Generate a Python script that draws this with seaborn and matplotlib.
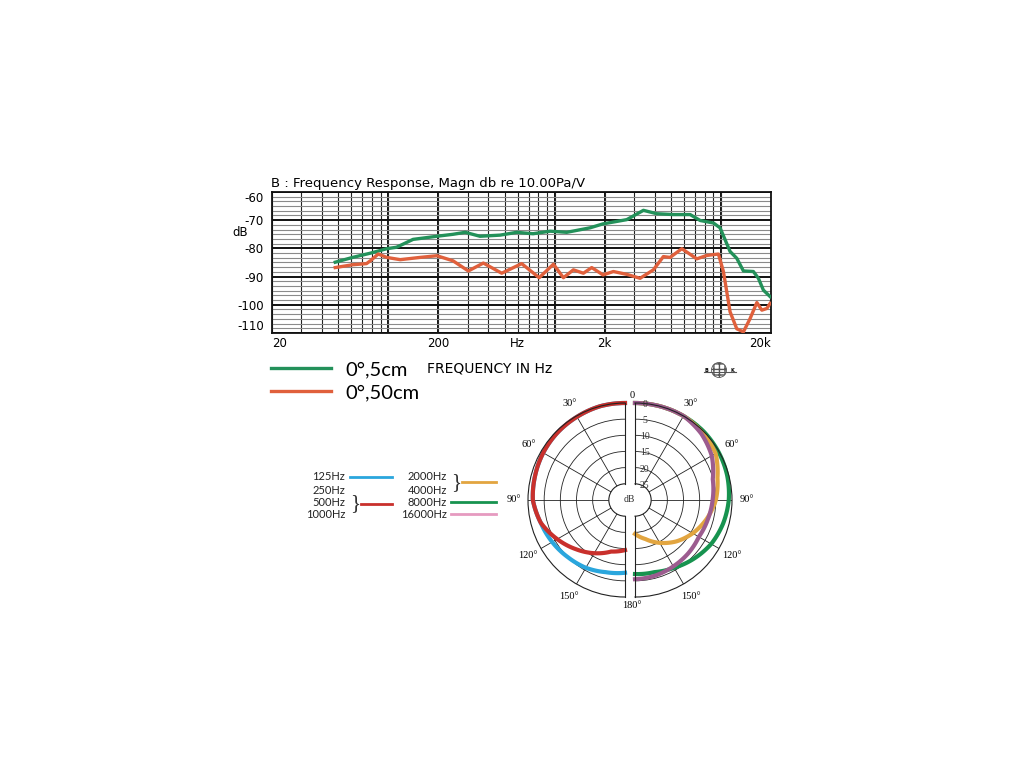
import numpy as np
import matplotlib
matplotlib.use("Agg")
import matplotlib.pyplot as plt
from matplotlib.patches import Circle
from matplotlib.ticker import LogLocator, MultipleLocator, NullFormatter
import seaborn as sns

plt.rcParams["axes.unicode_minus"] = False
plt.rcParams["font.family"] = ["DejaVu Sans"]

W, H = 1024, 768

# frequency response, on axis, 5 cm (green) and 50 cm (red)
near_hz = [48, 61, 78, 98, 112, 141, 196, 245, 290, 356, 470, 592, 742, 940,
           1183, 1634, 1956, 2716, 3420, 4114, 5180, 6530, 7500, 9020, 9880,
           11350, 12450, 13650, 15670, 16800, 18000, 19760]
near_db = [-84.9, -83.2, -81.7, -80.1, -79.6, -76.8, -75.7, -75.0, -74.3, -75.7,
           -75.3, -74.3, -74.8, -73.9, -74.3, -72.7, -71.3, -69.8, -66.5, -67.7,
           -68.0, -68.0, -70.1, -71.0, -72.7, -81.1, -83.5, -88.0, -88.2, -90.6,
           -94.8, -97.1]
far_hz = [48, 61, 74, 78, 87, 98, 118, 155, 196, 245, 303, 373, 481, 634, 808,
          984, 1130, 1297, 1490, 1672, 1956, 2256, 2716, 3266, 3926, 4508, 4946,
          5820, 7160, 8220, 9660, 10350, 11350, 12450, 13650, 14970, 16440,
          17620, 18880, 19760]
far_db = [-86.8, -85.8, -85.4, -84.4, -82.0, -83.2, -84.0, -83.2, -82.6, -84.4,
          -88.0, -85.2, -88.8, -85.4, -90.4, -85.6, -90.4, -87.6, -88.8, -86.8,
          -89.4, -88.2, -89.2, -90.6, -87.6, -82.9, -83.2, -80.1, -83.7, -82.5,
          -82.0, -88.2, -102.5, -108.5, -109.6, -104.9, -99.2, -101.9, -101.3,
          -99.5]

tick_hz = [20, 200, 600, 2000, 20000]
tick_lbl = ["20", "200", "Hz", "2k", "20k"]
heavy_hz = [100, 200, 1000, 2000, 10000]
db_ticks = [-60, -70, -80, -90, -100, -110]

# polar pattern, level in dB vs angle
polar_deg = [0, 15, 30, 45, 60, 75, 90, 105, 120, 135, 150, 165, 180]
lvl_125 = [0, 0, -0.3, -0.5, -0.8, -1.2, -1.5, -3.0, -4.0, -5.0, -5.8, -6.9, -7.5]
lvl_500 = [0, 0, -0.3, -0.5, -0.8, -1.2, -1.5, -3.0, -5.8, -8.5, -11.0, -13.5, -14.5]
lvl_2k4k = [0, 0, 0, -0.5, -1.2, -3.6, -5.0, -7.1, -9.4, -11.9, -14.7, -17.5, -19.5]
lvl_8k = [0, 0, 0, 0, -0.2, -0.5, -1.0, -1.8, -2.8, -4.3, -5.8, -6.9, -7.1]
lvl_16k = [0, 0, 0, -1.0, -2.6, -5.1, -6.0, -6.7, -7.2, -6.7, -6.3, -5.8, -5.5]
ring_db = [-20, -15, -10, -5]
ring_lbl_db = [0, -5, -10, -15, -20, -25]
angle_ticks = [30, 60, 90, 120, 150]

GREEN = "#23915a"
RED = "#e0603c"
P_RED = "#c9302c"
P_BLUE = "#2aa6dd"
P_ORANGE = "#e2a540"
P_GREEN = "#17934f"
P_PURPLE = "#9c5c8f"
P_PINK = "#e69ac0"

fig = plt.figure(figsize=(W / 100, H / 100), dpi=100)


def box(x0, y0, x1, y1):
    return [x0 / W, 1 - y1 / H, (x1 - x0) / W, (y1 - y0) / H]


# ---- frequency response ----
ax = fig.add_axes(box(272, 192, 771, 333))
ax.set_xscale("log")
sns.lineplot(x=near_hz, y=near_db, ax=ax, color=GREEN, lw=2.4, label="0°,5cm",
             estimator=None, zorder=5)
sns.lineplot(x=far_hz, y=far_db, ax=ax, color=RED, lw=2.4, label="0°,50cm",
             estimator=None, zorder=5)
ax.set_xlim(20, 20000)
ax.set_ylim(-110, -60)
ax.set_xlabel("")
ax.set_ylabel("")
ax.xaxis.set_minor_locator(LogLocator(base=10, subs=np.arange(1, 10), numticks=20))
ax.xaxis.set_minor_formatter(NullFormatter())
ax.xaxis.remove_overlapping_locs = False
ax.yaxis.set_minor_locator(MultipleLocator(10 / 6))
ax.set_xticks(tick_hz, tick_lbl)
ax.set_yticks(db_ticks, [str(v) for v in db_ticks])
ax.grid(which="minor", axis="x", color="#222222", lw=0.8)
ax.grid(which="minor", axis="y", color="#8a8a8a", lw=0.8)
ax.grid(which="major", axis="y", color="#111111", lw=1.4)
for f in heavy_hz:
    ax.axvline(f, color="#111111", lw=1.4, zorder=1)
ax.tick_params(which="both", length=0)
ax.tick_params(axis="y", pad=6, labelsize=8.5)
ax.tick_params(axis="x", pad=3, labelsize=8.5)
xl = ax.get_xticklabels()
xl[0].set_ha("left")
xl[-1].set_ha("right")
yl = ax.get_yticklabels()
yl[0].set_va("top")
yl[-1].set_va("bottom")
for s in ax.spines.values():
    s.set_linewidth(1.3)
    s.set_color("#111111")

handles, labels = ax.get_legend_handles_labels()
ax.get_legend().remove()
fig.legend(handles, labels, loc="upper left", bbox_to_anchor=(271 / W, 1 - 361 / H),
           frameon=False, borderpad=0, borderaxespad=0, handlelength=3.0,
           handletextpad=0.7, labelspacing=0.3,
           prop={"family": "Lato", "size": 14.5})


# ---- polar pattern, two halves ----
# the half-disc only fills half of its axes box, so the box is doubled round its centre
def half_polar(x0, direction, r=97):
    cx, cy = x0 + r / 2, 500
    p = fig.add_axes(box(cx - r, cy - 2 * r, cx + r, cy + 2 * r), projection="polar")
    p.set_theta_zero_location("N")
    p.set_theta_direction(direction)
    p.set_thetamin(0)
    p.set_thetamax(180)
    p.set_rorigin(-30)
    p.set_ylim(-25, 0)
    p.set_yticks(ring_db)
    p.yaxis.set_major_formatter(NullFormatter())
    p.set_thetagrids(angle_ticks, [f"{a}°" for a in angle_ticks])
    for t in p.get_xticklabels():
        t.set_fontfamily("Liberation Serif")
        t.set_fontsize(7.5)
    p.tick_params(axis="x", pad=0)
    p.grid(color="#222222", lw=0.6)
    for s in p.spines.values():
        s.set_linewidth(0.8)
        s.set_color("#222222")
    p.patch.set_alpha(0)
    return p


def curve(p, level, color):
    sns.lineplot(x=th, y=level, ax=p, color=color, lw=3, sort=False,
                 estimator=None, clip_on=False)
    # let the segments follow the polar grid instead of cutting straight across
    p.lines[-1].get_path()._interpolation_steps = 40


th = np.deg2rad(polar_deg)
left = half_polar(528, 1)
curve(left, lvl_125, P_BLUE)
curve(left, lvl_500, P_RED)
left.set_xlabel("")
left.set_ylabel("")

right = half_polar(635, -1)
curve(right, lvl_8k, P_GREEN)
curve(right, lvl_2k4k, P_ORANGE)
curve(right, lvl_16k, P_PURPLE)
right.set_xlabel("")
right.set_ylabel("")
for lv in ring_lbl_db:
    right.annotate(str(-lv), xy=(0, lv), xytext=(7, -1), textcoords="offset points",
                   ha="center", va="center", fontsize=7, family="Liberation Serif",
                   color="#333333", annotation_clip=False)

# ---- overlay for free text ----
ov = fig.add_axes([0, 0, 1, 1], zorder=10)
ov.set_xlim(0, W)
ov.set_ylim(H, 0)
ov.axis("off")

ov.text(271, 183, "B : Frequency Response, Magn db re 10.00Pa/V", fontsize=9.5,
        va="center", ha="left")
ov.text(240, 233, "dB", fontsize=8.5, va="center", ha="center")
ov.text(427, 369, "FREQUENCY IN Hz", fontsize=10, va="center", ha="left")

# B&K logo
ov.add_patch(Circle((719, 370), 7.5, facecolor="white", edgecolor="#555555",
                    hatch="+++", lw=0.6))
ov.plot([704, 736], [372, 372], color="#555555", lw=0.8)
ov.text(706, 371, "B", fontsize=3.5, ha="center", va="center", weight="bold")
ov.text(732, 371, "K", fontsize=3.5, ha="center", va="center", weight="bold")

ov.text(632, 396, "0", fontsize=7.5, family="Liberation Serif", ha="center", va="center")
ov.text(632, 605, "180°", fontsize=7.5, family="Liberation Serif", ha="center", va="center")
ov.text(629, 500, "dB", fontsize=7, family="Liberation Serif", ha="center", va="center",
        color="#333333")

# polar legend
leg_left = ["125Hz", "250Hz", "500Hz", "1000Hz"]
leg_right = ["2000Hz", "4000Hz", "8000Hz", "16000Hz"]
leg_y = [477, 490, 503, 515]
for lbl, y in zip(leg_left, leg_y):
    ov.text(345, y, lbl, fontsize=8, family="Lato", ha="right", va="center", color="#222222")
for lbl, y in zip(leg_right, leg_y):
    ov.text(447, y, lbl, fontsize=8, family="Lato", ha="right", va="center", color="#222222")
ov.text(355, 504, "}", fontsize=15, family="Liberation Serif", ha="center", va="center",
        color="#333333")
ov.text(456, 483, "}", fontsize=15, family="Liberation Serif", ha="center", va="center",
        color="#333333")
ov.plot([350, 392], [477, 477], color=P_BLUE, lw=2)
ov.plot([361, 392], [504, 504], color=P_RED, lw=2)
ov.plot([462, 496], [482, 482], color=P_ORANGE, lw=2)
ov.plot([451, 496], [502, 502], color=P_GREEN, lw=2)
ov.plot([451, 496], [514, 514], color=P_PINK, lw=2)

fig.savefig("out.png", dpi=100, facecolor="white")
